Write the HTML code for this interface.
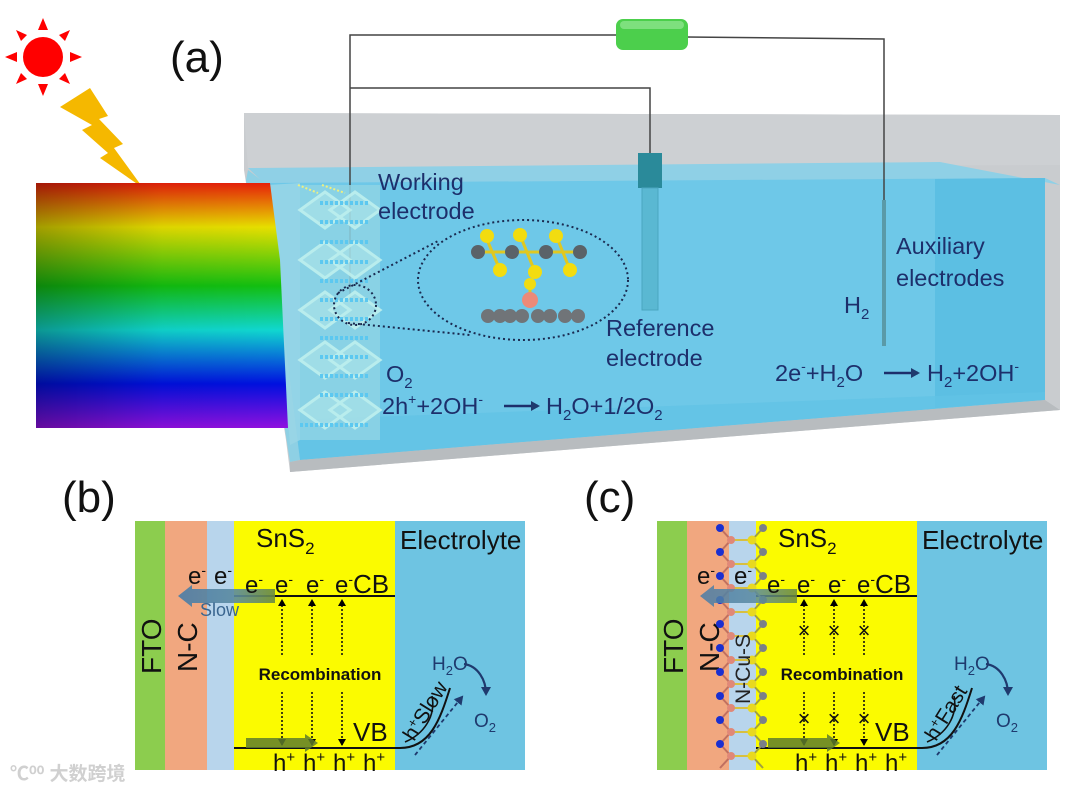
<!DOCTYPE html>
<html><head><meta charset="utf-8">
<style>
html,body{margin:0;padding:0;background:#fff;}
svg{display:block;font-family:"Liberation Sans","Noto Sans CJK SC",sans-serif;}
</style></head>
<body>
<svg width="1080" height="793" viewBox="0 0 1080 793" xmlns="http://www.w3.org/2000/svg">
<defs>
  <linearGradient id="rb" x1="0" y1="0" x2="0" y2="1">
    <stop offset="0" stop-color="#e8200a"/>
    <stop offset="0.18" stop-color="#e8e000"/>
    <stop offset="0.42" stop-color="#12c010"/>
    <stop offset="0.6" stop-color="#10d8d0"/>
    <stop offset="0.82" stop-color="#0010e0"/>
    <stop offset="1" stop-color="#9010e0"/>
  </linearGradient>
  <linearGradient id="rbd" x1="0" y1="0" x2="1" y2="0">
    <stop offset="0" stop-color="#000" stop-opacity="0.3"/>
    <stop offset="0.5" stop-color="#000" stop-opacity="0.05"/>
    <stop offset="1" stop-color="#000" stop-opacity="0"/>
  </linearGradient>
  <linearGradient id="arr" x1="0" y1="0" x2="1" y2="0">
    <stop offset="0" stop-color="#4a7ca8"/>
    <stop offset="0.6" stop-color="#5a8aa0"/>
    <stop offset="1" stop-color="#6a8a40"/>
  </linearGradient>
  <marker id="ah" markerWidth="8" markerHeight="8" refX="6" refY="4" orient="auto" markerUnits="userSpaceOnUse">
    <path d="M0,0 L7,4 L0,8 z" fill="#000"/>
  </marker>
  <marker id="ahb" markerWidth="10" markerHeight="10" refX="7" refY="5" orient="auto" markerUnits="userSpaceOnUse">
    <path d="M0,0 L9,5 L0,10 z" fill="#1f3a6e"/>
  </marker>
  <g id="unit">
    <line x1="720" y1="0" x2="731" y2="12" stroke="#c07060" stroke-width="2"/>
    <line x1="731" y1="12" x2="720" y2="24" stroke="#c07060" stroke-width="2"/>
    <line x1="731" y1="12" x2="752" y2="12" stroke="#d8c040" stroke-width="2"/>
    <line x1="752" y1="12" x2="763" y2="0" stroke="#a0a040" stroke-width="2"/>
    <line x1="752" y1="12" x2="763" y2="24" stroke="#a0a040" stroke-width="2"/>
    <circle cx="720" cy="0" r="4" fill="#1a2fd0"/>
    <circle cx="731" cy="12" r="4" fill="#e08878"/>
    <circle cx="752" cy="12" r="4.5" fill="#e8d820"/>
    <circle cx="763" cy="0" r="4" fill="#7a8088"/>
  </g>
</defs>

<!-- sun -->
<circle cx="43" cy="57" r="20" fill="#f00"/>
<g fill="#f00">
  <polygon points="43,18 38,30 48,30"/>
  <polygon points="43,96 38,84 48,84"/>
  <polygon points="5,57 17,52 17,62"/>
  <polygon points="82,57 70,52 70,62"/>
  <polygon points="16,30 27,35 21,41"/>
  <polygon points="70,30 59,35 65,41"/>
  <polygon points="16,84 27,79 21,73"/>
  <polygon points="70,84 59,79 65,73"/>
</g>
<polygon points="60,107 90,88 108,116 99,119 123,144 114,148 143,188 100,158 108,153 82,130 92,125" fill="#f5b800"/>

<text x="170" y="72" font-size="44" fill="#111">(a)</text>

<!-- beaker -->
<polygon points="244,113 1060,115 1060,410 290,472 286,440 244,170" fill="#c9cccf"/>
<polygon points="244,113 1060,115 1060,165 248,168" fill="#cdd0d3"/>
<polygon points="248,168 940,162 1060,185 1045,178 265,184" fill="#8fd0e6"/>
<polygon points="265,183 1045,178 1045,400 300,460" fill="#6ec8e8"/>
<polygon points="935,179 1045,178 1045,400 935,408" fill="#5cbfe3"/>
<polygon points="290,420 1045,392 1045,400 300,460" fill="#62c3e5" opacity="0.8"/>
<polygon points="248,170 265,183 300,460 290,462 246,180" fill="#8ed0e4"/>
<polygon points="290,462 300,460 1045,400 1060,410 290,472" fill="#b8bcbf"/>

<g stroke="#444" stroke-width="1.5" fill="none">
  <polyline points="350,300 350,35 618,35"/>
  <polyline points="686,37 884,39 884,345"/>
  <polyline points="350,88 650,88 650,155"/>
</g>
<rect x="616" y="19" width="72" height="31" rx="7" fill="#4ccf4c"/>
<rect x="620" y="21" width="64" height="8" rx="4" fill="#7ee07e"/>
<rect x="638" y="153" width="24" height="35" fill="#2a8a9a"/>
<rect x="642" y="188" width="16" height="122" fill="#5ab8d2" stroke="#4aa6c0" stroke-width="1"/>
<rect x="882" y="200" width="4" height="146" fill="#5a9aa8"/>

<!-- working electrode slab -->
<polygon points="268,185 300,183 300,440 290,445" fill="#9ad6e6" opacity="0.85"/>
<rect x="300" y="185" width="80" height="255" fill="#8ed4e4" opacity="0.85"/>
<g stroke="#bff0ee" stroke-width="3" opacity="0.9">
  <path d="M300,210 l25,-18 25,18 -25,18z M330,210 l25,-18 25,18 -25,18z M300,260 l25,-18 25,18 -25,18z M330,260 l25,-18 25,18 -25,18z M300,310 l25,-18 25,18 -25,18z M330,310 l25,-18 25,18 -25,18z M300,360 l25,-18 25,18 -25,18z M330,360 l25,-18 25,18 -25,18z M300,410 l25,-18 25,18 -25,18z M330,410 l25,-18 25,18 -25,18z" fill="#c6f0ec" fill-opacity="0.4"/>
</g>
<g stroke="#5cc8f0" stroke-width="4" stroke-dasharray="3,2">
  <line x1="320" y1="203" x2="370" y2="203"/><line x1="320" y1="222" x2="370" y2="222"/>
  <line x1="320" y1="242" x2="370" y2="242"/><line x1="320" y1="262" x2="370" y2="262"/>
  <line x1="320" y1="281" x2="370" y2="281"/><line x1="320" y1="300" x2="370" y2="300"/>
  <line x1="320" y1="319" x2="370" y2="319"/><line x1="320" y1="338" x2="370" y2="338"/>
  <line x1="320" y1="357" x2="370" y2="357"/><line x1="320" y1="376" x2="370" y2="376"/>
  <line x1="320" y1="395" x2="370" y2="395"/><line x1="300" y1="425" x2="370" y2="425"/>
</g>
<g stroke="#eef080" stroke-width="2" stroke-dasharray="2,2">
  <line x1="298" y1="185" x2="318" y2="193"/><line x1="322" y1="185" x2="345" y2="193"/>
</g>

<!-- rainbow -->
<polygon points="36,183 270,183 280,260 288,428 36,428" fill="url(#rb)"/>
<polygon points="36,183 270,183 280,260 288,428 36,428" fill="url(#rbd)"/>

<g fill="none" stroke="#1a2a50" stroke-width="2" stroke-dasharray="2,3">
  <ellipse cx="523" cy="280" rx="105" ry="60"/>
  <ellipse cx="355" cy="305" rx="21" ry="20"/>
  <line x1="338" y1="293" x2="440" y2="240"/>
  <line x1="348" y1="323" x2="470" y2="335"/>
</g>
<g stroke="#e0c820" stroke-width="3">
  <line x1="478" y1="252" x2="580" y2="252"/>
  <line x1="485" y1="235" x2="500" y2="270"/><line x1="520" y1="235" x2="535" y2="272"/>
  <line x1="556" y1="235" x2="570" y2="270"/><line x1="530" y1="283" x2="530" y2="300"/>
</g>
<g fill="#5a6268">
  <circle cx="478" cy="252" r="7"/><circle cx="512" cy="252" r="7"/><circle cx="546" cy="252" r="7"/><circle cx="580" cy="252" r="7"/>
</g>
<g fill="#f2dc10">
  <circle cx="487" cy="236" r="7"/><circle cx="520" cy="235" r="7"/><circle cx="556" cy="236" r="7"/>
  <circle cx="500" cy="270" r="7"/><circle cx="535" cy="272" r="7"/><circle cx="570" cy="270" r="7"/><circle cx="530" cy="284" r="6"/>
</g>
<circle cx="530" cy="300" r="8" fill="#ec8a78"/>
<g fill="#707478">
  <circle cx="488" cy="316" r="7"/><circle cx="500" cy="316" r="7"/><circle cx="510" cy="316" r="7"/>
  <circle cx="522" cy="316" r="7"/><circle cx="538" cy="316" r="7"/><circle cx="550" cy="316" r="7"/>
  <circle cx="565" cy="316" r="7"/><circle cx="578" cy="316" r="7"/>
</g>

<g fill="#1d2f6b" font-size="23.5">
  <text x="378" y="190">Working</text>
  <text x="378" y="219">electrode</text>
  <text x="606" y="336">Reference</text>
  <text x="606" y="366">electrode</text>
  <text x="896" y="254">Auxiliary</text>
  <text x="896" y="286">electrodes</text>
  <text x="844" y="313">H<tspan font-size="15" dy="6">2</tspan></text>
  <text x="386" y="382">O<tspan font-size="15" dy="6">2</tspan></text>
  <text x="382" y="414">2h<tspan font-size="14" dy="-10">+</tspan><tspan dy="10">+2OH</tspan><tspan font-size="14" dy="-10">-</tspan></text>
  <text x="546" y="414">H<tspan font-size="15" dy="6">2</tspan><tspan dy="-6">O+1/2O</tspan><tspan font-size="15" dy="6">2</tspan></text>
  <text x="775" y="381">2e<tspan font-size="14" dy="-10">-</tspan><tspan dy="10">+H</tspan><tspan font-size="15" dy="6">2</tspan><tspan dy="-6">O</tspan></text>
  <text x="927" y="381">H<tspan font-size="15" dy="6">2</tspan><tspan dy="-6">+2OH</tspan><tspan font-size="14" dy="-10">-</tspan></text>
</g>
<line x1="504" y1="406" x2="538" y2="406" stroke="#1d2f6b" stroke-width="2.5" marker-end="url(#ahb)"/>
<line x1="884" y1="373" x2="918" y2="373" stroke="#1d2f6b" stroke-width="2.5" marker-end="url(#ahb)"/>

<!-- panels b/c -->
<text x="62" y="512" font-size="44" fill="#111">(b)</text>
<text x="584" y="512" font-size="44" fill="#111">(c)</text>

<g id="pb">
  <rect x="135" y="521" width="30" height="249" fill="#8ccd4e"/>
  <rect x="165" y="521" width="42" height="249" fill="#f1a77f"/>
  <rect x="207" y="521" width="27" height="249" fill="#b8d5ec"/>
  <rect x="234" y="521" width="161" height="249" fill="#fbfb00"/>
  <rect x="395" y="521" width="130" height="249" fill="#6ec4e2"/>
  <text transform="translate(161,674) rotate(-90)" font-size="28" fill="#111">FTO</text>
  <text transform="translate(197,672) rotate(-90)" font-size="28" fill="#111">N-C</text>
  <text x="256" y="547" font-size="26" fill="#111">SnS<tspan font-size="17" dy="7">2</tspan></text>
  <text x="400" y="549" font-size="26" fill="#111">Electrolyte</text>
  <line x1="234" y1="596" x2="395" y2="596" stroke="#111" stroke-width="2"/>
  <g stroke="#111" stroke-width="1.6" stroke-dasharray="2,2">
    <line x1="282" y1="655" x2="282" y2="600" marker-end="url(#ah)"/>
    <line x1="312" y1="655" x2="312" y2="600" marker-end="url(#ah)"/>
    <line x1="342" y1="655" x2="342" y2="600" marker-end="url(#ah)"/>
    <line x1="282" y1="692" x2="282" y2="745" marker-end="url(#ah)"/>
    <line x1="312" y1="692" x2="312" y2="745" marker-end="url(#ah)"/>
    <line x1="342" y1="692" x2="342" y2="745" marker-end="url(#ah)"/>
  </g>
  <text x="320" y="680" font-size="17" font-weight="bold" text-anchor="middle" fill="#111">Recombination</text>
  <path d="M234,748 L400,748 C430,748 440,720 450,688" fill="none" stroke="#111" stroke-width="2"/>
  <text x="353" y="741" font-size="26" fill="#111">VB</text>
  <g font-size="24" fill="#111">
    <text x="273" y="771">h<tspan font-size="15" dy="-9">+</tspan></text>
    <text x="303" y="771">h<tspan font-size="15" dy="-9">+</tspan></text>
    <text x="333" y="771">h<tspan font-size="15" dy="-9">+</tspan></text>
    <text x="363" y="771">h<tspan font-size="15" dy="-9">+</tspan></text>
  </g>
  <polygon points="246,738 305,738 305,734 318,743 305,752 305,748 246,748" fill="#5e7d2c" opacity="0.85"/>
  <line x1="415" y1="755" x2="462" y2="697" stroke="#1f3a6e" stroke-width="1.8" stroke-dasharray="4,3" marker-end="url(#ahb)"/>
  <text x="432" y="670" font-size="19" fill="#1f3a6e">H<tspan font-size="13" dy="5">2</tspan><tspan dy="-5">O</tspan></text>
  <path d="M464,664 C478,666 486,680 486,694" fill="none" stroke="#1f3a6e" stroke-width="2.2" marker-end="url(#ahb)"/>
  <text x="474" y="727" font-size="19" fill="#1f3a6e">O<tspan font-size="13" dy="5">2</tspan></text>
</g>

<polygon points="192,589 275,589 275,603 192,603 192,607 178,596 192,585" fill="url(#arr)" opacity="0.9"/>
<g font-size="24" fill="#111">
  <text x="188" y="584">e<tspan font-size="14" dy="-9">-</tspan></text>
  <text x="214" y="584">e<tspan font-size="14" dy="-9">-</tspan></text>
  <text x="245" y="593">e<tspan font-size="14" dy="-9">-</tspan></text>
  <text x="275" y="593">e<tspan font-size="14" dy="-9">-</tspan></text>
  <text x="306" y="593">e<tspan font-size="14" dy="-9">-</tspan></text>
  <text x="335" y="593">e<tspan font-size="14" dy="-9">-</tspan><tspan dy="9" font-size="26">CB</tspan></text>
</g>
<text x="200" y="616" font-size="18" fill="#3a6690">Slow</text>
<text transform="translate(414,742) rotate(-58)" font-size="21" fill="#111">h<tspan font-size="13" dy="-7">+</tspan><tspan dy="7">Slow</tspan></text>
<path d="M432,696 C436,716 424,734 405,742" fill="none" stroke="#111" stroke-width="1.6"/>

<use href="#pb" transform="translate(522,0)"/>
<g>
  <use href="#unit" transform="translate(0,528)"/>
  <use href="#unit" transform="translate(0,552)"/>
  <use href="#unit" transform="translate(0,576)"/>
  <use href="#unit" transform="translate(0,600)"/>
  <use href="#unit" transform="translate(0,624)"/>
  <use href="#unit" transform="translate(0,648)"/>
  <use href="#unit" transform="translate(0,672)"/>
  <use href="#unit" transform="translate(0,696)"/>
  <use href="#unit" transform="translate(0,720)"/>
  <use href="#unit" transform="translate(0,744)"/>
</g>
<text transform="translate(750,704) rotate(-90)" font-size="21" fill="#222">N-Cu-S</text>
<polygon points="714,589 797,589 797,603 714,603 714,607 700,596 714,585" fill="url(#arr)" opacity="0.85"/>
<g font-size="24" fill="#111">
  <text x="697" y="584">e<tspan font-size="14" dy="-9">-</tspan></text>
  <text x="734" y="584">e<tspan font-size="14" dy="-9">-</tspan></text>
  <text x="767" y="593">e<tspan font-size="14" dy="-9">-</tspan></text>
  <text x="797" y="593">e<tspan font-size="14" dy="-9">-</tspan></text>
  <text x="828" y="593">e<tspan font-size="14" dy="-9">-</tspan></text>
  <text x="857" y="593">e<tspan font-size="14" dy="-9">-</tspan><tspan dy="9" font-size="26">CB</tspan></text>
</g>
<g font-size="22" fill="#111" text-anchor="middle">
  <text x="804" y="638">×</text><text x="834" y="638">×</text><text x="864" y="638">×</text>
  <text x="804" y="726">×</text><text x="834" y="726">×</text><text x="864" y="726">×</text>
</g>
<text transform="translate(936,742) rotate(-58)" font-size="21" fill="#111">h<tspan font-size="13" dy="-7">+</tspan><tspan dy="7">Fast</tspan></text>
<path d="M954,696 C958,716 946,734 927,742" fill="none" stroke="#111" stroke-width="1.6"/>

<text x="10" y="780" font-size="19" fill="#d0d0d0" font-weight="bold">℃⁰⁰ 大数跨境</text>
</svg>
</body></html>
